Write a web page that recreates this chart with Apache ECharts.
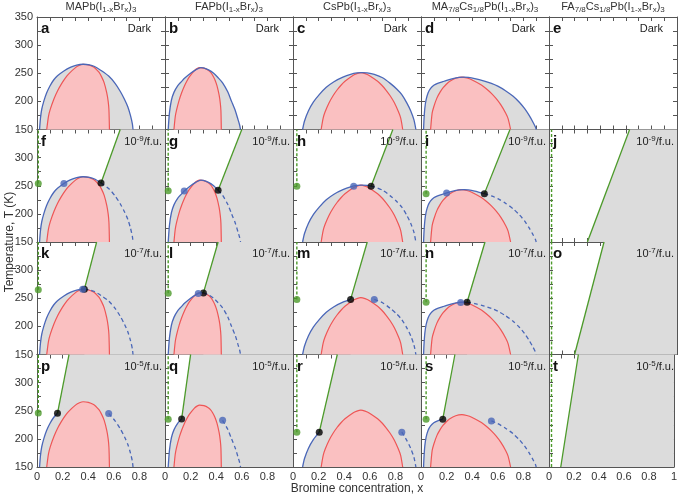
<!DOCTYPE html>
<html><head><meta charset="utf-8">
<script src="https://cdn.jsdelivr.net/npm/echarts@6/dist/echarts.min.js"></script>
<style>html,body{margin:0;padding:0;background:#fff}#c{width:680px;height:496px}</style>
</head><body><div id="c"></div>
<script>
// ---------------- data ----------------
const columnTitles = [
  '{n|MAPb(I}{s|1-x}{n|Br}{s|x}{n|)}{s|3}',
  '{n|FAPb(I}{s|1-x}{n|Br}{s|x}{n|)}{s|3}',
  '{n|CsPb(I}{s|1-x}{n|Br}{s|x}{n|)}{s|3}',
  '{n|MA}{s|7/8}{n|Cs}{s|1/8}{n|Pb(I}{s|1-x}{n|Br}{s|x}{n|)}{s|3}',
  '{n|FA}{s|7/8}{n|Cs}{s|1/8}{n|Pb(I}{s|1-x}{n|Br}{s|x}{n|)}{s|3}'
];
const rowConditions = ['Dark', '{n|10}{p|-9}{n|/f.u.}', '{n|10}{p|-7}{n|/f.u.}', '{n|10}{p|-5}{n|/f.u.}'];
const panelLetters = [['a','b','c','d','e'],['f','g','h','i','j'],['k','l','m','n','o'],['p','q','r','s','t']];
const xTickLabels = ['0','0.2','0.4','0.6','0.8','1'];
const tTickLabels = ['150','200','250','300','350'];

// binodal (blue) and spinodal (red) curves, [x, T]
const binodalMA = [[0.02,150],[0.027,170],[0.037,186],[0.054,201],[0.075,215],[0.1,227],[0.13,238],[0.16,245.5],[0.21,254],[0.26,260.5],[0.31,264.5],[0.36,266],[0.41,265],[0.45,262],[0.5,255],[0.56,245],[0.61,232],[0.65,218],[0.685,203],[0.71,190],[0.73,175],[0.745,160],[0.75,150]];
const spinodalMA = [[0.076,150],[0.09,173.8],[0.104,186.2],[0.133,204.6],[0.161,218.9],[0.19,230.6],[0.218,240.4],[0.246,248.5],[0.303,260.4],[0.332,264.1],[0.36,266],[0.401,265],[0.442,261],[0.463,257],[0.484,252],[0.504,244],[0.525,233],[0.545,215],[0.556,200],[0.562,185],[0.566,150]];
const binodalFA = [[0.025,150],[0.035,180],[0.05,202],[0.07,216],[0.1,228],[0.13,235.5],[0.15,240.5],[0.2,250],[0.24,256],[0.28,260],[0.3,259.5],[0.34,256],[0.38,250],[0.415,242],[0.45,233],[0.49,217],[0.52,200],[0.55,183],[0.57,168],[0.583,158],[0.59,150]];
const spinodalFA = [[0.07,150],[0.08,172.6],[0.09,184.3],[0.11,201.8],[0.13,215.3],[0.15,226.5],[0.17,235.7],[0.19,243.4],[0.23,254.7],[0.25,258.2],[0.27,260],[0.304,259],[0.338,255.5],[0.355,252],[0.372,246.5],[0.389,239],[0.406,228],[0.423,211],[0.432,197],[0.437,183],[0.44,150]];
const binodalCs = [[0.075,150],[0.09,165],[0.12,183],[0.16,199],[0.205,212],[0.26,225],[0.32,235],[0.39,243],[0.45,248],[0.5,250.5],[0.54,251],[0.58,250.5],[0.635,248],[0.7,242],[0.76,232],[0.81,222],[0.85,212],[0.89,197],[0.92,183],[0.945,167],[0.96,150]];
const spinodalCs = [[0.22,150],[0.236,170.7],[0.251,181.5],[0.282,197.6],[0.313,210],[0.344,220.2],[0.375,228.7],[0.406,235.7],[0.468,246.2],[0.499,249.4],[0.53,251],[0.563,249.4],[0.595,246.2],[0.661,235.7],[0.694,228.7],[0.726,220.2],[0.759,210],[0.792,197.6],[0.824,181.5],[0.841,170.7],[0.857,150]];
const binodalMACs = [[0.02,150],[0.024,170],[0.03,188],[0.04,203],[0.055,215],[0.075,223],[0.1,228.5],[0.13,232],[0.17,235],[0.2,237.2],[0.25,240.5],[0.3,242.5],[0.335,243],[0.37,242.6],[0.42,240.5],[0.495,236],[0.55,232],[0.6,227],[0.66,219],[0.72,209],[0.77,198],[0.81,187],[0.845,175],[0.875,163],[0.895,154],[0.9,150]];
const spinodalMACs = [[0.075,150],[0.087,179],[0.1,190.5],[0.124,205.8],[0.149,216.4],[0.173,224.4],[0.198,230.5],[0.222,235.3],[0.271,241.1],[0.32,243],[0.358,241.5],[0.396,238.5],[0.472,229],[0.51,222.4],[0.548,214.6],[0.586,205.2],[0.624,193.8],[0.662,179],[0.681,169],[0.7,150]];

// illuminated rows: per column (MA, FA, Cs, MA7/8Cs1/8)
const greenDotsN9 = [[0.01,254],[0.025,241],[0.03,249],[0.04,236]];
const blueDotsN9  = [[0.21,254],[0.15,240.5],[0.474,249.3],[0.2,237.2]];
const blackDotsN9 = [[0.5,255],[0.415,242],[0.61,249.3],[0.495,236]];
const greenTopsN9 = [[0.65,350],[0.6,350],[0.78,350],[0.695,350]];
const faCsLineN9  = [[0.30,150],[0.63,350]];

const greenDotsN7 = [[0.01,265],[0.025,259],[0.03,248],[0.04,243]];
const blueDotsN7  = [[0.357,266],[0.26,258.5],[0.635,248],[0.31,242.5]];
const blackDotsN7 = [[0.37,265.8],[0.30,259.5],[0.45,248],[0.36,242.8]];
const greenTopsN7 = [[0.466,350],[0.415,350],[0.58,350],[0.5,350]];
const faCsLineN7  = [[0.20,150],[0.43,350]];

const greenDotsN5 = [[0.01,246],[0.025,235],[0.03,212],[0.04,235]];
const blueDotsN5  = [[0.56,245],[0.45,233],[0.85,212],[0.55,232]];
const blackDotsN5 = [[0.16,245.5],[0.13,235.5],[0.205,212],[0.17,235]];
const greenTopsN5 = [[0.25,350],[0.2,350],[0.346,350],[0.265,350]];
const faCsLineN5  = [[0.094,150],[0.235,350]];

const dashedGreenX = 0.02;

// ---------------- build ----------------
const BLUE = '#4a67b8', RED = '#ee5656', PINK = '#fac0c1', GRAY = '#dcdcdc', GREEN = '#4c9a2a', AX = '#555';
const FONT = 'Arial, "Liberation Sans", sans-serif';
const GL = 37, GT = 17, GW = 128, GH = 112.5;

const binodals = [binodalMA, binodalFA, binodalCs, binodalMACs];
const spinodals = [spinodalMA, spinodalFA, spinodalCs, spinodalMACs];
const lightRows = [null,
  {green: greenDotsN9, blue: blueDotsN9, black: blackDotsN9, top: greenTopsN9, fa: faCsLineN9},
  {green: greenDotsN7, blue: blueDotsN7, black: blackDotsN7, top: greenTopsN7, fa: faCsLineN7},
  {green: greenDotsN5, blue: blueDotsN5, black: blackDotsN5, top: greenTopsN5, fa: faCsLineN5}];

const grids = [], xAxes = [], yAxes = [], series = [], titles = [];

function tickCommon() {
  return {
    axisLine: {show: true, onZero: false, lineStyle: {color: AX, width: 1}},
    axisTick: {show: true, inside: true, length: 4, lineStyle: {color: AX}},
    minorTick: {show: true, splitNumber: 2, length: 4, lineStyle: {color: AX}},
    splitLine: {show: false}, minorSplitLine: {show: false}
  };
}
function polygonSeries(ai, pts, color) {
  return {type: 'custom', xAxisIndex: ai, yAxisIndex: ai, data: [pts[0]], silent: true, z: 1,
    renderItem: (params, api) => ({type: 'polygon', shape: {points: pts.map(p => api.coord(p))}, style: {fill: color}})};
}
function lineS(ai, data, o) {
  return Object.assign({type: 'line', xAxisIndex: ai, yAxisIndex: ai, data: data, symbol: 'none', silent: true,
    smooth: 0.25, animation: false, z: 3}, o);
}
const txt = (size, color, weight) => ({fontSize: size, color: color, fontFamily: FONT, fontWeight: weight || 'normal'});

for (let r = 0; r < 4; r++) {
  for (let c = 0; c < 5; c++) {
    const idx = r * 5 + c, ai = idx * 2;
    const left = GL + c * GW, top = GT + r * GH;
    grids.push({left: left, top: top, width: GW, height: GH});
    const xb = Object.assign({type: 'value', gridIndex: idx, min: 0, max: 1, interval: 0.2, position: 'bottom',
      axisLabel: {show: r === 3, color: '#333', fontSize: 11, fontFamily: FONT, margin: 4,
        formatter: v => { const i = Math.round(v * 5); return (i === 5 && c < 4) ? '' : xTickLabels[i]; }}}, tickCommon());
    const xt = Object.assign({type: 'value', gridIndex: idx, min: 0, max: 1, interval: 0.2, position: 'top',
      axisLabel: {show: false}}, tickCommon());
    const yl = Object.assign({type: 'value', gridIndex: idx, min: 150, max: 350, interval: 50, position: 'left',
      axisLabel: {show: c === 0, color: '#333', fontSize: 11, fontFamily: FONT, margin: 4,
        formatter: v => { const i = Math.round((v - 150) / 50); return (i === 4 && r > 0) ? '' : tTickLabels[i]; }}}, tickCommon());
    const yr = Object.assign({type: 'value', gridIndex: idx, min: 150, max: 350, interval: 50, position: 'right',
      axisLabel: {show: false}}, tickCommon());
    xAxes.push(xb, xt); yAxes.push(yl, yr);

    titles.push({text: panelLetters[r][c], left: left + 4, top: top + 12, padding: 0, textAlign: 'left', textVerticalAlign: 'middle',
      textStyle: txt(15, '#111', 'bold')});
    titles.push({text: rowConditions[r], left: left + GW - (r === 0 ? 14 : 3), top: top + 12, padding: 0, textAlign: 'right', textVerticalAlign: 'middle',
      textStyle: Object.assign(txt(11, '#222'), {rich: {n: txt(11, '#222'), p: Object.assign(txt(8, '#222'), {padding: [0, 0, 6, 0]})}})});

    const L = lightRows[r];
    if (c === 4) {
      if (L) {
        const fa = L.fa;
        series.push(polygonSeries(ai, [fa[0], fa[1], [1, 350], [1, 150]], GRAY));
        series.push(lineS(ai, fa, {smooth: false, lineStyle: {color: GREEN, width: 1.3}, z: 4}));
        series.push(lineS(ai, [[dashedGreenX, 150], [dashedGreenX, 350]], {smooth: false, lineStyle: {color: GREEN, width: 1.4, type: [3, 2]}, z: 4}));
      }
      continue;
    }
    const B = binodals[c], S = spinodals[c];
    if (L) {
      const bk = L.black[c], tp = L.top[c];
      series.push(polygonSeries(ai, [bk, tp, [1, 350], [1, 150], [bk[0], 150]], GRAY));
    }
    series.push(lineS(ai, B, {lineStyle: {width: 0, opacity: 0}, areaStyle: {color: GRAY, opacity: 1, origin: 'start'}, z: 2}));
    series.push(lineS(ai, S, {lineStyle: {color: RED, width: 1.2}, areaStyle: {color: PINK, opacity: 1, origin: 'start'}, z: 3}));
    if (!L) {
      series.push(lineS(ai, B, {lineStyle: {color: BLUE, width: 1.3}, z: 4}));
    } else {
      const bk = L.black[c], bl = L.blue[c], gd = L.green[c], tp = L.top[c];
      const dashStartPt = bl[0] > bk[0] ? bl : bk;
      const solid = B.filter(p => p[0] < bk[0] - 0.005).concat([bk]);
      const dashed = [dashStartPt].concat(B.filter(p => p[0] > dashStartPt[0] + 0.005));
      series.push(lineS(ai, solid, {lineStyle: {color: BLUE, width: 1.3}, z: 4}));
      series.push(lineS(ai, dashed, {lineStyle: {color: BLUE, width: 1.3, type: [4, 3]}, z: 4}));
      series.push(lineS(ai, [bk, tp], {smooth: false, lineStyle: {color: GREEN, width: 1.3}, z: 4}));
      series.push(lineS(ai, [gd, [gd[0], 350]], {smooth: false, lineStyle: {color: GREEN, width: 1.4, type: [3, 2]}, z: 4}));
      series.push({type: 'scatter', xAxisIndex: ai, yAxisIndex: ai, symbolSize: 7, silent: true, z: 6, animation: false,
        data: [{value: gd, itemStyle: {color: GREEN}}, {value: bk, itemStyle: {color: '#000'}}, {value: bl, itemStyle: {color: BLUE}}]});
    }
  }
}

for (let c = 0; c < 5; c++) {
  titles.push({text: columnTitles[c], left: GL + c * GW + GW / 2, top: 7, padding: 0, textAlign: 'center', textVerticalAlign: 'middle',
    textStyle: Object.assign(txt(11, '#333'), {rich: {n: txt(11, '#333'), s: Object.assign(txt(8, '#333'), {padding: [6, 0, 0, 0]})}})});
}
titles.push({text: 'Bromine concentration, x', left: GL + 5 * GW / 2, top: 489, padding: 0, textAlign: 'center', textVerticalAlign: 'middle',
  textStyle: txt(12, '#333')});

const chart = echarts.init(document.getElementById('c'), null, {renderer: 'canvas'});
chart.setOption({
  animation: false,
  backgroundColor: '#fff',
  title: titles,
  grid: grids,
  xAxis: xAxes,
  yAxis: yAxes,
  series: series,
  graphic: [{type: 'text', x: 10, y: GT + 2 * GH, rotation: Math.PI / 2,
    style: {text: 'Temperature, T (K)', align: 'center', verticalAlign: 'middle', fontSize: 12, fill: '#333', fontFamily: FONT}}]
});
</script></body></html>
